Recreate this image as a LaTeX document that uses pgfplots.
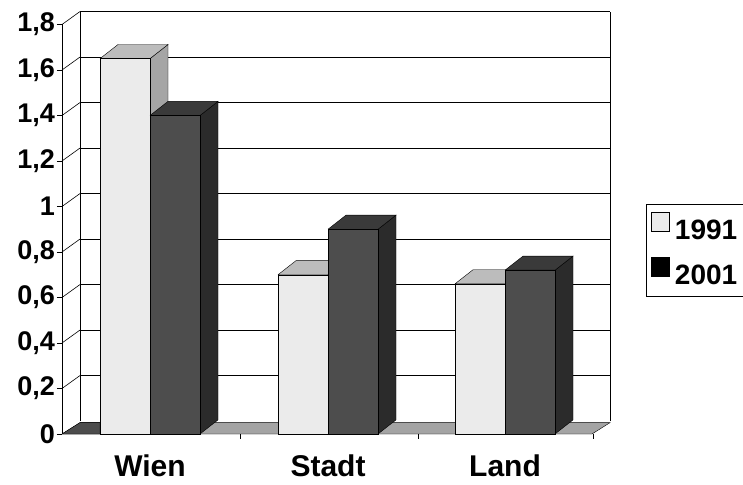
\documentclass[border=0pt]{standalone}
\usepackage{pgfplots}
\pgfplotsset{compat=1.18}
\usepackage{fontspec}
\setmainfont{Liberation Sans}
\definecolor{cAf}{HTML}{EBEBEB}
\definecolor{cAt}{HTML}{BCBCBC}
\definecolor{cAs}{HTML}{A5A5A5}
\definecolor{cBf}{HTML}{4D4D4D}
\definecolor{cBt}{HTML}{3A3A3A}
\definecolor{cBs}{HTML}{2B2B2B}
\definecolor{floorc}{HTML}{A4A4A4}
\begin{document}
\begin{tikzpicture}
\useasboundingbox (0,0) rectangle (743pt,484pt);
\begin{axis}[
  at={(62pt,50pt)}, anchor=south west,
  scale only axis, width=530pt, height=409.5pt,
  xmin=62, xmax=592, ymin=0, ymax=1.8,
  clip=false,
  axis line style={draw=none},
  tick pos=left, tick align=outside,
  major tick length=5pt,
  xtick style={draw=none},
  ytick style={draw=black, line width=0.6pt},
  xtick={150,328,505},
  xticklabels={Wien,Stadt,Land},
  ytick={0,0.2,...,1.8},
  /pgf/number format/.cd, use comma, fixed, precision=1, assume math mode=true,
  /pgfplots/.cd,
  yticklabel style={font=\bfseries\fontsize{27}{27}\selectfont, inner xsep=2pt},
  xticklabel style={font=\bfseries\fontsize{30}{30}\selectfont, anchor=base, yshift=-37pt},
  legend image code/.code={\draw[#1] (4pt,-1pt) rectangle (22pt,18pt); \path (25pt,0pt);},
  legend style={at={(1.102,0.5617)}, anchor=north west, draw=black, line width=0.6pt,
    font=\bfseries\fontsize{28}{28}\selectfont, inner xsep=5pt, inner ysep=8pt,
    row sep=14pt},
  legend cell align=left,
]
% back wall, side wall and floor
\pgfplotsinvokeforeach{0.2,0.4,0.6,0.8,1.0,1.2,1.4,1.6,1.8}{
  \draw[line width=0.6pt] (axis cs:80,#1+0.057) -- (axis cs:610,#1+0.057);
  \draw[line width=0.6pt] (axis cs:62,#1) -- (axis cs:80,#1+0.057);
}
\draw[line width=0.6pt] (axis cs:80,0.057) -- (axis cs:80,1.857);
\draw[line width=0.6pt] (axis cs:610,0.057) -- (axis cs:610,1.857);
\draw[line width=0.6pt] (axis cs:62,0) -- (axis cs:62,1.8);
\addplot[fill=floorc, draw=black, line width=0.4pt, forget plot, no markers] coordinates {(62,0) (80,0.05) (610,0.05) (592,0) (62,0)};
\addplot[fill=black!70, draw=black, line width=0.4pt, forget plot, no markers] coordinates {(62,0) (80,0.05) (100,0.05) (100,0) (62,0)};
\draw[line width=0.6pt] (axis cs:240,0) -- ([yshift=-5pt]axis cs:240,0);
\draw[line width=0.6pt] (axis cs:418,0) -- ([yshift=-5pt]axis cs:418,0);
\draw[line width=0.6pt] (axis cs:593,0) -- ([yshift=-5pt]axis cs:593,0);
% Wien 1991
\addplot[fill=cAs, draw=black, line width=0.4pt, forget plot, no markers] coordinates {(150,0) (168,0.062) (168,1.712) (150,1.65) (150,0)};
\addplot[fill=cAt, draw=black, line width=0.4pt, forget plot, no markers] coordinates {(100,1.65) (118,1.712) (168,1.712) (150,1.65) (100,1.65)};
\addplot[ybar, bar width=50, bar shift=0pt, fill=cAf, draw=black, line width=0.4pt, forget plot] coordinates {(125,1.65)};
% Wien 2001
\addplot[fill=cBs, draw=black, line width=0.4pt, forget plot, no markers] coordinates {(200,0) (218,0.062) (218,1.462) (200,1.40) (200,0)};
\addplot[fill=cBt, draw=black, line width=0.4pt, forget plot, no markers] coordinates {(150,1.40) (168,1.462) (218,1.462) (200,1.40) (150,1.40)};
\addplot[ybar, bar width=50, bar shift=0pt, fill=cBf, draw=black, line width=0.4pt, forget plot] coordinates {(175,1.40)};
% Stadt 1991
\addplot[fill=cAs, draw=black, line width=0.4pt, forget plot, no markers] coordinates {(328,0) (346,0.062) (346,0.762) (328,0.70) (328,0)};
\addplot[fill=cAt, draw=black, line width=0.4pt, forget plot, no markers] coordinates {(278,0.70) (296,0.762) (346,0.762) (328,0.70) (278,0.70)};
\addplot[ybar, bar width=50, bar shift=0pt, fill=cAf, draw=black, line width=0.4pt, forget plot] coordinates {(303,0.70)};
% Stadt 2001
\addplot[fill=cBs, draw=black, line width=0.4pt, forget plot, no markers] coordinates {(378,0) (396,0.062) (396,0.962) (378,0.90) (378,0)};
\addplot[fill=cBt, draw=black, line width=0.4pt, forget plot, no markers] coordinates {(328,0.90) (346,0.962) (396,0.962) (378,0.90) (328,0.90)};
\addplot[ybar, bar width=50, bar shift=0pt, fill=cBf, draw=black, line width=0.4pt, forget plot] coordinates {(353,0.90)};
% Land 1991
\addplot[fill=cAs, draw=black, line width=0.4pt, forget plot, no markers] coordinates {(505,0) (523,0.062) (523,0.722) (505,0.66) (505,0)};
\addplot[fill=cAt, draw=black, line width=0.4pt, forget plot, no markers] coordinates {(455,0.66) (473,0.722) (523,0.722) (505,0.66) (455,0.66)};
\addplot[ybar, bar width=50, bar shift=0pt, fill=cAf, draw=black, line width=0.4pt, forget plot] coordinates {(480,0.66)};
% Land 2001
\addplot[fill=cBs, draw=black, line width=0.4pt, forget plot, no markers] coordinates {(555,0) (573,0.062) (573,0.782) (555,0.72) (555,0)};
\addplot[fill=cBt, draw=black, line width=0.4pt, forget plot, no markers] coordinates {(505,0.72) (523,0.782) (573,0.782) (555,0.72) (505,0.72)};
\addplot[ybar, bar width=50, bar shift=0pt, fill=cBf, draw=black, line width=0.4pt, forget plot] coordinates {(530,0.72)};
\addlegendimage{fill=cAf, draw=black, line width=0.6pt}
\addlegendentry{1991}
\addlegendimage{fill=black, draw=black, line width=0.6pt}
\addlegendentry{2001}
\end{axis}
\end{tikzpicture}
\end{document}
